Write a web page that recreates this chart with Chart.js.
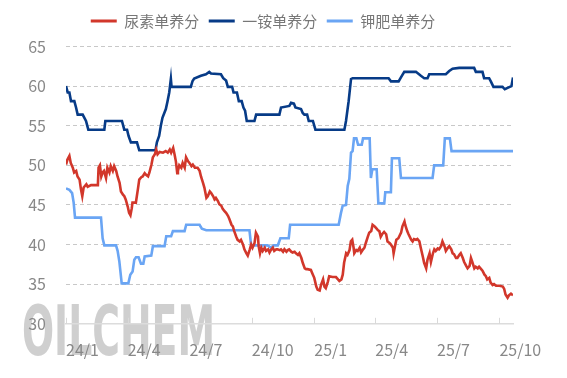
<!DOCTYPE html>
<html>
<head>
<meta charset="utf-8">
<script src="https://cdn.jsdelivr.net/npm/chart.js@4.4.1/dist/chart.umd.min.js"></script>
<style>
    html, body { margin: 0; padding: 0; background: #fff; }
    #wrap { width: 567px; height: 378px; }
</style>
</head>
<body>
<div id="wrap"><canvas id="chart"></canvas></div>
<script>
// x = days since 2024-01-01
const seriesNames = ['尿素单养分', '一铵单养分', '钾肥单养分'];
const tickDays = [0, 91, 182, 274, 366, 456, 547, 639];
const tickLabels = ['24/1', '24/4', '24/7', '24/10', '25/1', '25/4', '25/7', '25/10'];

const ureaDays = [0,2,5,7,10,12,15,17,20,22,24,26,30,32,37,47,48,50,52,54,56,59,61,64,66,69,71,74,76,79,81,84,86,88,91,93,95,97,98,103,106,108,111,113,116,118,121,123,126,128,131,133,135,138,143,147,150,153,155,158,160,162,164,165,167,170,172,175,177,180,182,185,187,190,194,197,199,202,204,207,209,212,214,217,219,221,224,226,229,231,234,236,239,241,244,246,248,251,253,256,258,261,263,266,268,271,273,275,278,280,283,284,286,288,290,293,295,298,300,302,305,307,310,312,315,317,320,322,325,327,329,332,334,337,339,342,344,347,349,352,354,356,361,364,366,369,371,374,376,379,381,383,386,388,393,398,401,403,406,408,410,413,415,418,420,422,424,425,428,430,433,435,438,440,442,445,447,450,452,455,457,460,462,464,466,469,472,474,477,479,482,483,485,487,490,494,496,499,500,503,505,509,511,513,516,518,521,523,526,528,531,533,536,538,541,543,545,548,550,553,555,558,560,563,565,568,570,572,575,577,580,582,585,587,590,592,595,597,599,602,604,607,609,612,614,617,619,621,624,626,629,631,634,639,644,646,648,651,653,656,659];
const ureaValues = [50.1,50.7,51.2,50.3,49.7,49.1,49.3,48.6,48.2,47.0,46.1,47.2,47.6,47.3,47.5,47.5,49.7,50.0,48.6,49.1,49.3,48.4,49.7,49.1,49.9,49.3,49.9,49.3,48.6,47.8,46.7,46.3,46.1,45.7,44.8,44.0,43.7,44.6,45.3,45.3,47.0,48.2,48.5,48.6,49.0,48.8,48.6,49.1,50.1,51.0,51.4,52.0,51.4,51.7,51.6,51.8,51.6,52.0,51.6,52.2,51.4,50.5,49.0,49.3,50.0,49.7,50.3,49.7,51.0,50.5,50.3,49.9,50.1,49.7,49.7,49.3,48.6,47.8,47.2,45.9,46.1,46.7,46.5,46.1,45.7,45.9,45.5,45.1,44.9,44.5,44.2,44.0,43.6,43.2,42.5,42.3,41.7,41.0,40.6,40.4,40.6,40.0,39.4,38.9,38.6,39.4,40.0,39.6,40.2,41.5,41.0,39.8,38.9,39.6,39.2,39.6,39.2,39.4,39.0,39.3,39.6,39.2,39.4,39.4,39.3,39.4,39.1,39.4,39.1,39.3,39.4,39.1,39.0,39.1,38.9,38.7,38.9,38.3,37.7,37.0,36.9,36.9,36.8,36.2,35.8,34.7,34.3,34.2,34.9,35.6,34.7,34.5,35.3,36.0,35.9,35.9,35.6,35.4,35.6,36.2,37.7,38.9,38.7,39.3,40.4,40.6,39.6,38.9,39.3,39.2,39.6,39.0,39.4,39.6,40.2,41.0,41.5,41.7,42.5,42.3,42.1,41.8,41.7,41.0,41.3,41.6,41.3,40.4,40.2,40.0,39.6,38.9,39.8,40.6,40.8,41.5,42.3,42.9,42.5,41.7,41.3,40.6,40.4,40.7,40.6,40.7,40.4,39.6,38.5,37.7,37.0,38.1,38.9,37.8,38.9,39.4,39.2,39.5,39.4,39.8,40.4,39.8,39.2,39.6,39.8,39.4,38.9,38.8,38.3,38.3,38.7,38.9,38.3,37.8,37.3,37.0,37.3,38.3,37.8,37.0,37.2,37.0,37.2,36.9,36.7,36.2,36.0,35.6,35.8,35.2,34.9,35.0,34.8,34.8,34.7,34.4,33.7,33.3,33.6,33.8,33.6];

const mapDays = [0,2.5,5,7.4,12.3,14.8,17.2,24.6,29.5,32.9,56.5,58,82.5,85.9,90,92.3,95.7,104.6,108,132,134,137.3,139.8,142.2,147.2,149.7,152.2,154.6,155.6,184,186.6,189,198.9,206.3,211.2,213.7,228.4,231.8,236,238.6,245,247,252,254.8,259,261.6,264,266.5,277.8,280.3,314.6,317,329.3,331.8,336,338.2,346.5,349,351.4,355.5,357.9,364,367.7,410.4,412.8,416.7,420.2,422.6,475.6,479.1,490.4,493.8,498.7,515.9,523.2,528.1,533,535.5,560,565,569.9,579.7,601.7,604.2,614,616.4,623.8,626.3,630.2,643.5,646.9,651.8,656.7,659];
const mapValues = [60.0,59.2,59.2,58.1,58.1,57.3,56.4,56.4,55.6,54.5,54.5,55.6,55.6,54.5,54.5,53.7,52.9,52.9,51.9,51.9,52.9,53.7,55.0,56.0,57.1,58.1,59.2,60.9,59.9,59.9,60.65,60.95,61.3,61.5,61.8,61.6,61.5,61.0,60.7,59.9,59.9,59.2,59.2,58.1,58.1,57.3,56.9,55.6,55.6,56.4,56.4,57.3,57.5,57.9,57.8,57.3,57.1,56.6,56.4,56.4,55.6,55.6,54.5,54.5,55.6,58.1,60.9,61.0,61.0,60.6,60.6,61.1,61.8,61.8,61.3,61.0,61.0,61.5,61.5,61.9,62.2,62.3,62.3,61.8,61.8,61.0,61.0,60.6,59.9,59.9,59.6,59.8,60.0,61.1];

const potashDays = [0,5,9,11.3,13.3,51.6,54,56.5,73.7,76.1,78.6,82.1,91.9,94.8,98.2,100.7,103.2,107,110.5,114,116,125.7,128.1,145.3,147.8,155,157.6,174.8,177.2,196.9,200.3,206.8,270.5,272.9,297.4,302.3,306,312.2,316.1,328.4,330.4,402,405.4,407.9,412.8,415.3,417.7,420.2,422.5,424.6,428.1,430.6,436,437.9,447.7,449.5,451.6,458,460.5,469.2,470.7,479,480.5,491.3,493.8,540.4,542.8,556.1,558.5,565.9,568.4,659];
const potashValues = [47.1,46.9,46.5,45.3,43.4,43.4,40.8,39.9,39.9,39.2,37.9,35.1,35.1,36.2,36.6,38.1,38.4,38.4,37.6,37.6,38.5,38.6,39.8,39.8,41.05,41.05,41.7,41.7,42.5,42.5,42.0,41.8,41.8,39.9,39.9,39.6,39.9,39.9,40.8,40.8,42.5,42.5,44.0,44.9,45.0,47.4,48.3,51.6,51.8,53.4,53.4,52.6,52.6,53.4,53.4,48.4,49.5,49.5,45.2,45.2,46.6,46.6,50.9,50.9,48.4,48.4,50.0,50.0,53.4,53.4,51.8,51.8];

const seriesColors = ['#d2372b', '#073b87', '#6aa5f4'];
const fontFamily = '"Noto Sans CJK SC", "Noto Sans", sans-serif';

const toPoints = (days, values) => days.map((d, i) => ({ x: d, y: values[i] }));

const makeDataset = (label, days, values, color) => ({
    label,
    data: toPoints(days, values),
    borderColor: color,
    backgroundColor: color,
    borderWidth: 2.6,
    pointRadius: 0,
    tension: 0
});

// grey watermark behind the plot
const watermark = {
    id: 'watermark',
    beforeDraw(chart) {
        const ctx = chart.ctx;
        ctx.save();
        const g = ctx.createLinearGradient(0, 303, 0, 356);
        g.addColorStop(0, 'rgba(195,195,195,0.8)');
        g.addColorStop(1, 'rgba(235,235,235,0.45)');
        ctx.fillStyle = g;
        ctx.font = 'bold 70px "DejaVu Sans"';
        ctx.textBaseline = 'alphabetic';
        ctx.textAlign = 'left';
        const w = ctx.measureText('OILCHEM').width;
        ctx.translate(22, 355);
        ctx.scale(193 / w, 1);
        ctx.fillText('OILCHEM', 0, 0);
        ctx.restore();
    }
};

// small tick marks pointing up from the x axis
const innerTicks = {
    id: 'innerTicks',
    afterDraw(chart) {
        const ctx = chart.ctx;
        const xs = chart.scales.x;
        const bottom = chart.chartArea.bottom;
        ctx.save();
        ctx.strokeStyle = '#d9d9d9';
        ctx.lineWidth = 1;
        ctx.beginPath();
        tickDays.forEach(d => {
            const px = Math.round(xs.getPixelForValue(d)) + 0.5;
            ctx.moveTo(px, bottom - 6);
            ctx.lineTo(px, bottom);
        });
        ctx.stroke();
        ctx.restore();
    }
};

const legendGap = {
    id: 'legendGap',
    beforeInit(chart) {
        const fit = chart.legend.fit;
        chart.legend.fit = function () {
            fit.bind(chart.legend)();
            this.height += 8;
        };
    }
};

new Chart(document.getElementById('chart'), {
    type: 'line',
    data: {
        datasets: [
            makeDataset(seriesNames[0], ureaDays, ureaValues, seriesColors[0]),
            makeDataset(seriesNames[1], mapDays, mapValues, seriesColors[1]),
            makeDataset(seriesNames[2], potashDays, potashValues, seriesColors[2])
        ]
    },
    options: {
        responsive: true,
        maintainAspectRatio: false,
        animation: false,
        devicePixelRatio: 1,
        layout: { padding: { left: 13, right: 54, top: 4, bottom: 1 } },
        plugins: {
            legend: {
                position: 'top',
                labels: {
                    boxWidth: 26,
                    boxHeight: 3,
                    padding: 9.5,
                    color: '#777',
                    font: { size: 15, family: fontFamily },
                    generateLabels: chart => Chart.defaults.plugins.legend.labels.generateLabels(chart)
                        .map(item => ({ ...item, lineWidth: 0 }))
                }
            },
            tooltip: { enabled: false }
        },
        scales: {
            x: {
                type: 'linear',
                min: 0,
                max: 659,
                afterBuildTicks: scale => { scale.ticks = tickDays.map(v => ({ value: v })); },
                ticks: {
                    autoSkip: false,
                    maxRotation: 0,
                    align: 'start',
                    padding: 17,
                    color: '#888',
                    font: { size: 16, family: fontFamily },
                    callback: value => tickLabels[tickDays.indexOf(value)]
                },
                grid: { display: true, drawOnChartArea: false, drawTicks: false },
                border: { display: true, color: '#dcdcdc', width: 1.5 }
            },
            y: {
                min: 30,
                max: 65,
                afterFit: scale => { scale.width = 53; },
                ticks: {
                    stepSize: 5,
                    padding: 20,
                    color: '#888',
                    font: { size: 16, family: fontFamily }
                },
                grid: {
                    drawTicks: false,
                    lineWidth: 1,
                    color: ctx => ctx.tick && ctx.tick.value === 30 ? 'rgba(0,0,0,0)' : '#c8c8c8'
                },
                border: { display: false, dash: [4, 3] }
            }
        }
    },
    plugins: [watermark, innerTicks, legendGap]
});
</script>
</body>
</html>
